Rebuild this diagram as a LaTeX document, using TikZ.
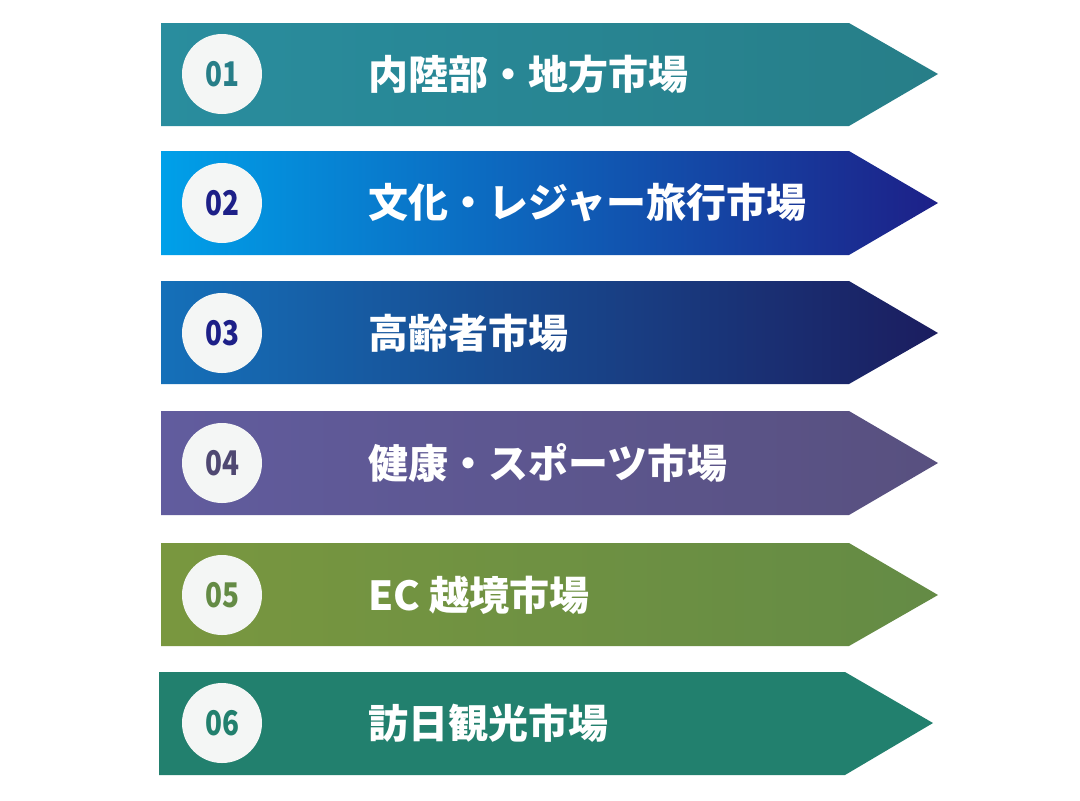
\documentclass[tikz,border=0pt]{standalone}
\usepackage{fontspec}
\newfontfamily\jp{Noto Sans CJK JP}
\newfontfamily\jpnum{Noto Sans CJK JP}[FakeStretch=0.82]
\definecolor{tealA}{HTML}{298D9E}
\definecolor{tealB}{HTML}{277E88}
\definecolor{skyA}{HTML}{00A0E9}
\definecolor{skyM}{HTML}{006CB8}
\definecolor{skyB}{HTML}{1D2088}
\definecolor{navyA}{HTML}{1570B9}
\definecolor{navyB}{HTML}{1B1D5F}
\definecolor{plumA}{HTML}{615C9E}
\definecolor{plumB}{HTML}{58507F}
\definecolor{oliveA}{HTML}{79973F}
\definecolor{oliveB}{HTML}{648B45}
\definecolor{pine}{HTML}{22806E}
\definecolor{disc}{HTML}{F4F6F5}
\begin{document}
\begin{tikzpicture}[x=0.5pt,y=-0.5pt,
  badge/.style={circle,fill=disc,minimum size=40pt,inner sep=0pt,
    font=\jpnum\bfseries\fontsize{17}{17}\selectfont},
  title/.style={anchor=west,text=white,inner sep=0pt,
    font=\jp\bfseries\fontsize{20}{20}\selectfont}]
\useasboundingbox[fill=white] (0,0) rectangle (1080,800);

% 01
\shade[left color=tealA,right color=tealB] (161,23)--(849,23)--(938,74)--(849,126)--(161,126)--cycle;
\node[badge,text=tealB] (n1) at (222,74) {01};
\node[title] (t1) at (368,74) {内陸部・地方市場};

% 02
\shade[left color=skyA,middle color=skyM,right color=skyB] (161,151)--(849,151)--(938,203)--(849,255)--(161,255)--cycle;
\node[badge,text=skyB] (n2) at (222,203) {02};
\node[title] (t2) at (368,203) {文化・レジャー旅行市場};

% 03
\shade[left color=navyA,right color=navyB] (161,281)--(849,281)--(938,333)--(849,384)--(161,384)--cycle;
\node[badge,text=skyB] (n3) at (222,333) {03};
\node[title] (t3) at (368,333) {高齢者市場};

% 04
\shade[left color=plumA,right color=plumB] (161,411)--(849,411)--(938,463)--(849,515)--(161,515)--cycle;
\node[badge,text=plumB!90!black] (n4) at (222,463) {04};
\node[title] (t4) at (368,463) {健康・スポーツ市場};

% 05
\shade[left color=oliveA,right color=oliveB] (161,543)--(849,543)--(938,595)--(849,646)--(161,646)--cycle;
\node[badge,text=oliveB] (n5) at (222,595) {05};
\node[title] (t5) at (368,595) {EC 越境市場};

% 06
\fill[pine] (159,672)--(845,672)--(933,723)--(845,775)--(159,775)--cycle;
\node[badge,text=pine] (n6) at (222,723) {06};
\node[title] (t6) at (368,723) {訪日観光市場};
\end{tikzpicture}
\end{document}
